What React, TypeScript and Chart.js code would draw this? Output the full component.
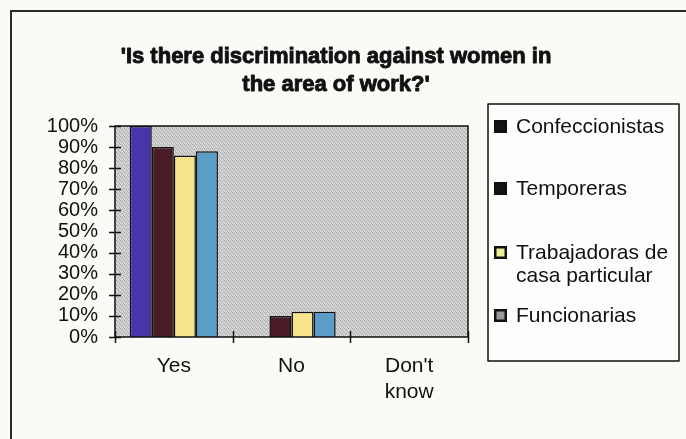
import React, { useEffect, useRef } from "react";
import { Chart, registerables } from "chart.js";

Chart.register(...registerables);

const categories: (string | string[])[] = ["Yes", "No", ["Don't", "know"]];
const seriesNames = ["Confeccionistas", "Temporeras", "Trabajadoras de casa particular", "Funcionarias"];
const confeccionistas = [100, 0, 0];
const temporeras = [90, 10, 0];
const trabajadoras = [86, 12, 0];
const funcionarias = [88, 12, 0];
const barColors = ["#4636aa", "#4a1c28", "#f5e48a", "#5b9dc6"];
const titleLines = ["'Is there discrimination against women in", "the area of work?'"];
const legendLines = [["Confeccionistas"], ["Temporeras"], ["Trabajadoras de", "casa particular"], ["Funcionarias"]];
const legendSwatchFill = ["#141414", "#141414", "#eeee96", "#9a9a9a"];

const FONT = "'Liberation Sans', Arial, sans-serif";

function makePattern(ctx: CanvasRenderingContext2D) {
  const c = document.createElement("canvas");
  c.width = 4;
  c.height = 4;
  const p = c.getContext("2d")!;
  p.fillStyle = "#cfcfcf";
  p.fillRect(0, 0, 4, 4);
  p.fillStyle = "#ababab";
  p.fillRect(0, 0, 1, 1);
  p.fillRect(2, 1, 1, 1);
  p.fillRect(1, 2, 1, 1);
  p.fillRect(3, 3, 1, 1);
  p.fillStyle = "#e4e4e4";
  p.fillRect(2, 3, 1, 1);
  p.fillRect(0, 2, 1, 1);
  return ctx.createPattern(c, "repeat");
}

const decorPlugin = {
  id: "decor",
  beforeDraw(chart: any) {
    const ctx = chart.ctx as CanvasRenderingContext2D;
    ctx.save();
    ctx.fillStyle = "#fafaf7";
    ctx.fillRect(0, 0, chart.width, chart.height);
    ctx.strokeStyle = "#2a2a2a";
    ctx.lineWidth = 2;
    ctx.beginPath();
    ctx.moveTo(11, chart.height);
    ctx.lineTo(11, 11);
    ctx.lineTo(chart.width, 11);
    ctx.stroke();
    const a = chart.chartArea;
    ctx.fillStyle = makePattern(ctx) || "#c4c4c4";
    ctx.fillRect(a.left, a.top, a.right - a.left, a.bottom - a.top);
    ctx.restore();
  },
  afterDatasetsDraw(chart: any) {
    const ctx = chart.ctx as CanvasRenderingContext2D;
    const a = chart.chartArea;
    const y = chart.scales.y;
    const x = chart.scales.x;
    ctx.save();
    ctx.strokeStyle = "#111";
    ctx.lineWidth = 1.5;
    ctx.strokeRect(a.left, a.top, a.right - a.left, a.bottom - a.top);
    ctx.beginPath();
    y.ticks.forEach((t: any) => {
      const py = Math.round(y.getPixelForValue(t.value)) + 0.5;
      ctx.moveTo(a.left - 6, py);
      ctx.lineTo(a.left + 6, py);
    });
    const n = categories.length;
    const bounds: number[] = [a.left];
    for (let i = 0; i < n - 1; i++) {
      bounds.push((x.getPixelForValue(i) + x.getPixelForValue(i + 1)) / 2);
    }
    bounds.push(a.right);
    bounds.forEach((bx) => {
      const px = Math.round(bx) + 0.5;
      ctx.moveTo(px, a.bottom - 6);
      ctx.lineTo(px, a.bottom + 6);
    });
    ctx.stroke();
    ctx.restore();
  },
  afterDraw(chart: any) {
    const ctx = chart.ctx as CanvasRenderingContext2D;
    ctx.save();
    // title
    ctx.fillStyle = "#111";
    ctx.strokeStyle = "#111";
    ctx.lineWidth = 0.9;
    ctx.lineJoin = "round";
    ctx.font = `bold 22px ${FONT}`;
    ctx.textAlign = "center";
    ctx.textBaseline = "middle";
    titleLines.forEach((l, i) => {
      ctx.fillText(l, 336, 57 + i * 28);
      ctx.strokeText(l, 336, 57 + i * 28);
    });
    // legend box
    ctx.fillStyle = "#fdfdfb";
    ctx.fillRect(488, 104, 191, 257);
    ctx.strokeStyle = "#111";
    ctx.lineWidth = 1.5;
    ctx.strokeRect(488, 104, 191, 257);
    const rowY = [126, 188, 252, 315];
    ctx.font = `21px ${FONT}`;
    ctx.textAlign = "left";
    legendLines.forEach((lines, i) => {
      const yy = rowY[i];
      ctx.fillStyle = "#111";
      ctx.fillRect(494, yy - 6, 13, 13);
      ctx.fillStyle = legendSwatchFill[i];
      ctx.fillRect(496.5, yy - 3.5, 8, 8);
      ctx.fillStyle = "#111";
      lines.forEach((l, j) => ctx.fillText(l, 516, yy + 1 + j * 23));
    });
    ctx.restore();
  },
};

export default function App() {
  const ref = useRef<HTMLCanvasElement>(null);
  useEffect(() => {
    if (!ref.current) return;
    const series = [confeccionistas, temporeras, trabajadoras, funcionarias];
    const chart = new Chart(ref.current, {
      type: "bar",
      data: {
        labels: categories as any,
        datasets: series.map((d, i) => ({
          label: seriesNames[i],
          data: d,
          backgroundColor: barColors[i],
          borderColor: "#111",
          borderWidth: 1.5,
          categoryPercentage: 0.75,
          barPercentage: 1,
        })),
      },
      options: {
        animation: false,
        responsive: false,
        devicePixelRatio: 1,
        layout: { padding: { top: 126, right: 218, bottom: 2, left: 0 } },
        plugins: { legend: { display: false }, title: { display: false }, tooltip: { enabled: false } },
        scales: {
          x: {
            grid: { display: false, drawTicks: false },
            border: { display: false },
            afterFit: (s: any) => { s.height = 100; },
            ticks: { color: "#111", padding: 16, font: { family: FONT, size: 21, lineHeight: 1.24 } },
          },
          y: {
            min: 0,
            max: 100,
            grid: { display: false, drawTicks: false },
            border: { display: false },
            afterFit: (s: any) => { s.width = 115; },
            ticks: {
              stepSize: 10,
              autoSkip: false,
              color: "#111",
              padding: 17,
              font: { family: FONT, size: 20 },
              callback: (v: any) => `${v}%`,
            },
          },
        },
      },
      plugins: [decorPlugin],
    });
    return () => chart.destroy();
  }, []);
  return (
    <div style={{ position: "fixed", left: 0, top: 0, width: 686, height: 439 }}>
      <canvas ref={ref} width={686} height={439} style={{ width: 686, height: 439, display: "block" }} />
    </div>
  );
}
